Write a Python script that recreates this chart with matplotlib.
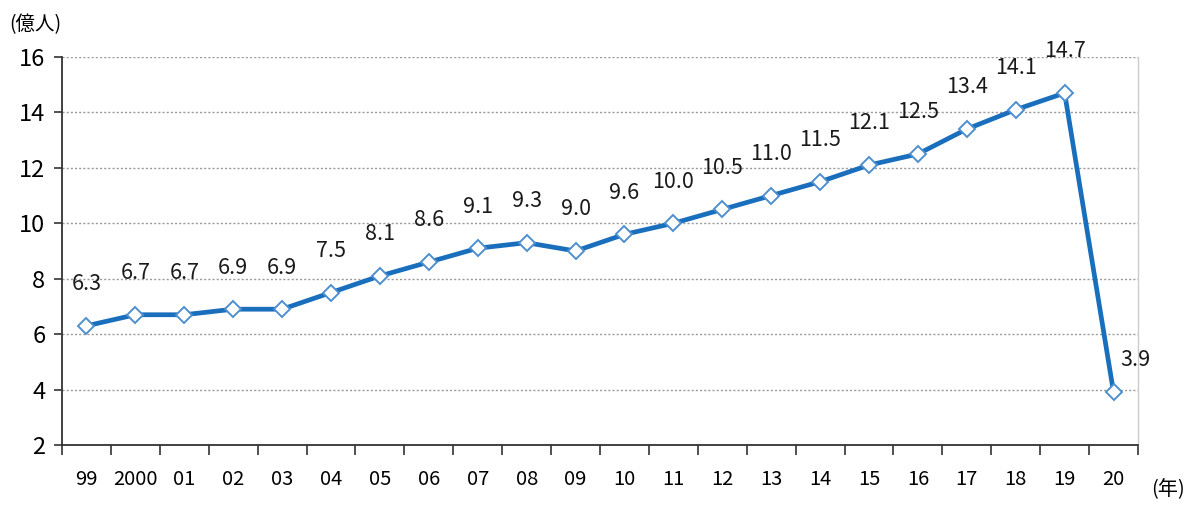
import matplotlib
matplotlib.use("Agg")
import matplotlib.pyplot as plt
import numpy as np

years = ["99", "2000", "01", "02", "03", "04", "05", "06", "07", "08", "09", "10",
         "11", "12", "13", "14", "15", "16", "17", "18", "19", "20"]
values = [6.3, 6.7, 6.7, 6.9, 6.9, 7.5, 8.1, 8.6, 9.1, 9.3, 9.0, 9.6,
          10.0, 10.5, 11.0, 11.5, 12.1, 12.5, 13.4, 14.1, 14.7, 3.9]
yticks = [2, 4, 6, 8, 10, 12, 14, 16]

plt.rcParams['font.family'] = ['Noto Sans CJK JP', 'DejaVu Sans']

fig = plt.figure(figsize=(11.95, 5.07), dpi=100)
ax = fig.add_axes([62/1195, 1-445/507, (1138-62)/1195, (445-57)/507])

x = np.arange(len(years))
ax.plot(x, values, color='#1a6fbd', lw=3.4, zorder=3,
        marker='D', markersize=8, markerfacecolor='white',
        markeredgecolor='#4f8fd0', markeredgewidth=1.4)

for i, v in enumerate(values):
    if i == len(values) - 1:
        off = (16, 23)
    else:
        off = (0, 30)
    ax.annotate(f"{v:.1f}", (i, v), xytext=off, textcoords='offset points',
                ha='center', va='center', fontsize=15.5, color='#1a1a1a')

ax.set_xlim(-0.5, len(years) - 0.5)
ax.set_ylim(2, 16)
ax.set_yticks(yticks)
ax.set_yticklabels([str(t) for t in yticks], fontsize=17)
ax.set_xticks(x)
ax.set_xticklabels(years, fontsize=14.5)
ax.set_xticks(np.arange(-0.5, len(years), 1), minor=True)
ax.tick_params(axis='x', which='major', length=0, pad=17)
ax.tick_params(axis='x', which='minor', length=7, width=1.2, direction='out', color='#333333')
ax.tick_params(axis='y', length=6, width=1.2, direction='out', color='#333333', pad=6)

ax.grid(axis='y', linestyle=(0, (1.5, 1.5)), color='#9a9a9a', lw=1.0, zorder=0)
for s in ['left', 'bottom']:
    ax.spines[s].set_color('#333333')
    ax.spines[s].set_linewidth(1.3)
ax.spines['top'].set_visible(False)
ax.spines['right'].set_color('#cccccc')
ax.spines['right'].set_linewidth(1.0)

fig.text(35/1195, 1-25/507, "(億人)", ha='center', va='center', fontsize=14)
fig.text(1168/1195, 1-490/507, "(年)", ha='center', va='center', fontsize=14.5)

fig.savefig("out.png", dpi=100, facecolor='white')
